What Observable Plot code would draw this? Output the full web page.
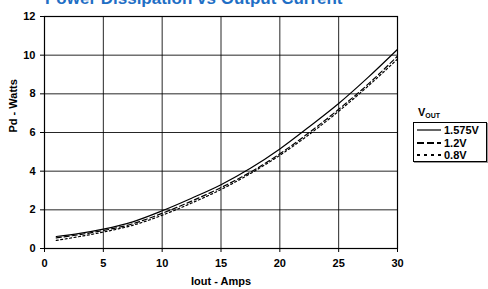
<!DOCTYPE html>
<html>
<head>
<meta charset="utf-8">
<script src="https://cdn.jsdelivr.net/npm/d3@7"></script>
<script src="https://cdn.jsdelivr.net/npm/@observablehq/plot@0.6"></script>
<style>
  html, body { margin: 0; padding: 0; background: #fff; overflow: hidden; }
  #wrap { position: relative; width: 488px; height: 289px; font-family: "Liberation Sans", Arial, sans-serif; }
  #title { position: absolute; left: 45px; top: -11px; font-size: 17px; font-weight: bold; color: #1F6FC5; white-space: nowrap; }
  #vout { position: absolute; left: 418px; top: 106px; font-size: 11px; font-weight: bold; }
  #vout sub { font-size: 7px; vertical-align: -2px; }
  #legend { position: absolute; left: 413px; top: 122px; width: 72px; height: 38px; border: 1px solid #000; background: #fff; box-shadow: 1px 1px 0 #999; }
  .row { position: absolute; left: 3px; height: 12px; display: flex; align-items: center; font-size: 11px; font-weight: bold; }
  .row svg { margin-right: 3px; }
</style>
</head>
<body>
<div id="wrap">
  <div id="chart"></div>
  <div id="title"></div>
  <div id="vout">V<sub>OUT</sub></div>
  <div id="legend"></div>
</div>
<script>
const titleText = "Power Dissipation vs Output Current";
const xLabel = "Iout - Amps";
const yLabel = "Pd - Watts";
const xTicks = [0, 5, 10, 15, 20, 25, 30];
const yTicks = [0, 2, 4, 6, 8, 10, 12];
const seriesNames = ["1.575V", "1.2V", "0.8V"];
const dashes = [null, "5,3", "2,2.5"];

const iout = [1, 3, 5, 7.5, 10, 12.5, 15, 17.5, 20, 22.5, 25, 27.5, 30];
const pd1575 = [0.62, 0.78, 1.0, 1.38, 1.95, 2.6, 3.3, 4.15, 5.15, 6.3, 7.5, 8.85, 10.3];
const pd12 = [0.55, 0.72, 0.93, 1.28, 1.82, 2.45, 3.15, 3.95, 4.9, 6.0, 7.2, 8.5, 9.95];
const pd08 = [0.42, 0.62, 0.85, 1.2, 1.72, 2.35, 3.05, 3.88, 4.82, 5.9, 7.1, 8.4, 9.8];

const seriesValues = [pd1575, pd12, pd08];
const data = seriesNames.flatMap((s, k) => iout.map((x, i) => ({series: s, x, y: seriesValues[k][i]})));

document.getElementById("title").textContent = titleText;

const font = "Liberation Sans, Arial, sans-serif";
const chart = Plot.plot({
  width: 488,
  height: 289,
  marginLeft: 44,
  marginRight: 91,
  marginTop: 16,
  marginBottom: 41,
  style: {fontFamily: font, fontSize: "11px", fontWeight: "bold", color: "#000", background: "transparent"},
  x: {domain: [0, 30], ticks: xTicks},
  y: {domain: [0, 12], ticks: yTicks},
  marks: [
    Plot.gridX(xTicks.slice(1, -1), {stroke: "#000", strokeOpacity: 0.85, strokeWidth: 1}),
    Plot.gridY(yTicks.slice(1, -1), {stroke: "#000", strokeOpacity: 0.85, strokeWidth: 1}),
    Plot.axisX(xTicks, {tickSize: 4, tickPadding: 7, label: null, stroke: "#000", fontWeight: "bold"}),
    Plot.axisY(yTicks, {tickSize: 4, tickPadding: 5, label: null, stroke: "#000", fontWeight: "bold"}),
    ...seriesNames.map((s, k) => Plot.line(data.filter(d => d.series === s), {
      x: "x", y: "y", curve: "monotone-x", stroke: "#000", strokeWidth: 1.2,
      strokeDasharray: dashes[k]
    })),
    Plot.frame({stroke: "#000", strokeWidth: 1.2}),
    Plot.text([xLabel], {frameAnchor: "bottom", dy: 36, text: d => d, fontWeight: "bold", fontSize: 11}),
    Plot.text([yLabel], {frameAnchor: "left", dx: -31, rotate: -90, text: d => d, fontWeight: "bold", fontSize: 11})
  ]
});
document.getElementById("chart").appendChild(chart);

const legend = document.getElementById("legend");
seriesNames.forEach((s, k) => {
  const row = document.createElement("div");
  row.className = "row";
  row.style.top = (1 + k * 12.5) + "px";
  row.innerHTML = `<svg width="24" height="4"><line x1="0" y1="2" x2="24" y2="2" stroke="#000" stroke-width="${k === 0 ? 1.2 : 2}" ${dashes[k] ? `stroke-dasharray="${k === 1 ? '7,3' : '3,4'}"` : ""}/></svg><span>${s}</span>`;
  legend.appendChild(row);
});
</script>
</body>
</html>
